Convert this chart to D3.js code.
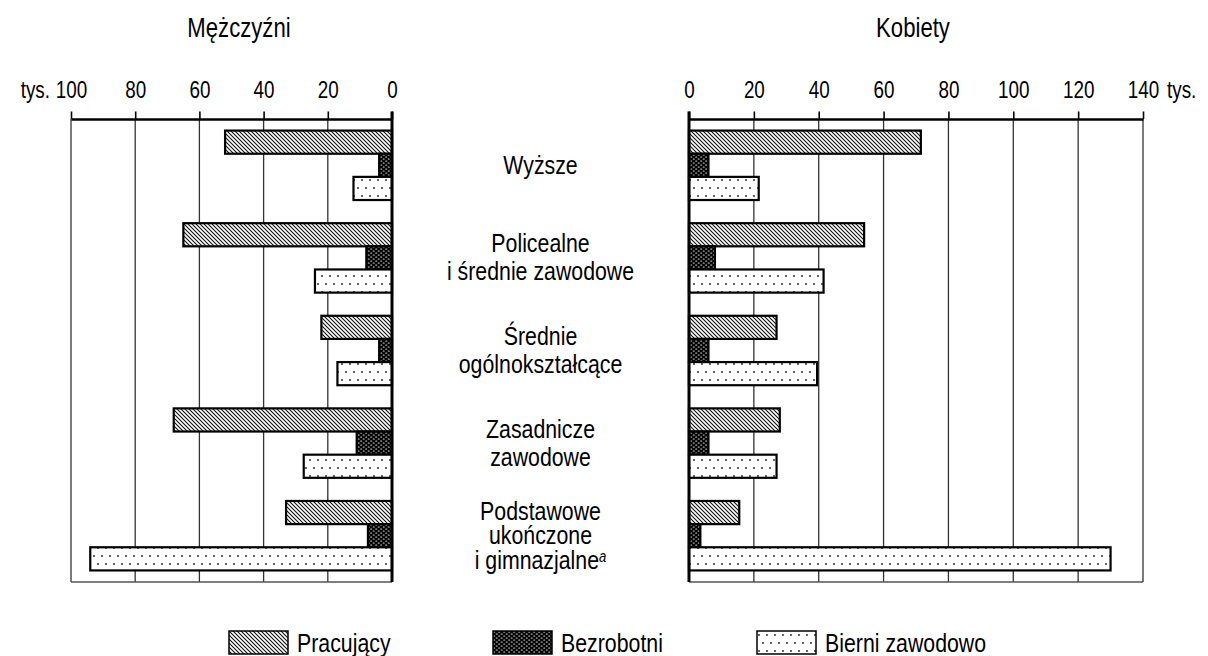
<!DOCTYPE html>
<html>
<head>
<meta charset="utf-8">
<script src="https://cdn.jsdelivr.net/npm/d3@7"></script>
<style>
  body { margin: 0; background: #fff; }
  text { font-family: "Liberation Sans", Arial, sans-serif; fill: #000; }
</style>
</head>
<body>
<svg id="chart"></svg>
<script>
// education levels, one entry per line of the label
const categories = [
  ["Wyższe"],
  ["Policealne", "i średnie zawodowe"],
  ["Średnie", "ogólnokształcące"],
  ["Zasadnicze", "zawodowe"],
  ["Podstawowe", "ukończone", "i gimnazjalne"],
];
const footnotes = ["", "", "", "", "a"];
const series = ["Pracujący", "Bezrobotni", "Bierni zawodowo"];

// thousands of persons
const menWorking = [52, 65, 22, 68, 33];
const menUnemployed = [4, 8, 4, 11, 7.5];
const menInactive = [12, 24, 17, 27.5, 94];
const womenWorking = [71.5, 54, 27, 28, 15.5];
const womenUnemployed = [6, 8, 6, 6, 3.5];
const womenInactive = [21.5, 41.5, 39.5, 27, 130];

const menTicks = [0, 20, 40, 60, 80, 100];
const womenTicks = [0, 20, 40, 60, 80, 100, 120, 140];
const unitLabel = "tys.";
const titles = ["Mężczyźni", "Kobiety"];

const w = 1208;
const h = 656;
const plotTop = 119;
const plotBottom = 582;
const narrow = 0.82; // the original uses a condensed face
const fills = ["url(#hatch)", "url(#dense)", "url(#dots)"];

const svg = d3.select("#chart").attr("width", w).attr("height", h);
const defs = svg.append("defs");

// diagonal hatch
const hatch = defs.append("pattern").attr("id", "hatch")
  .attr("patternUnits", "userSpaceOnUse").attr("width", 4).attr("height", 4);
hatch.append("rect").attr("width", 4).attr("height", 4).attr("fill", "#fff");
hatch.append("path").attr("d", "M-1,-1L5,5M-1,3L1,5M3,-1L5,1")
  .attr("stroke", "#111").attr("stroke-width", 1.1);

// black with small white specks
const dense = defs.append("pattern").attr("id", "dense")
  .attr("patternUnits", "userSpaceOnUse").attr("width", 5).attr("height", 4);
dense.append("rect").attr("width", 5).attr("height", 4).attr("fill", "#000");
dense.append("ellipse").attr("cx", 1.2).attr("cy", 1).attr("rx", 1.1).attr("ry", 0.55).attr("fill", "#eee");
dense.append("ellipse").attr("cx", 3.7).attr("cy", 3).attr("rx", 1.1).attr("ry", 0.55).attr("fill", "#eee");

// sparse dots
const dots = defs.append("pattern").attr("id", "dots")
  .attr("patternUnits", "userSpaceOnUse").attr("width", 8).attr("height", 16);
dots.append("rect").attr("width", 8).attr("height", 16).attr("fill", "#fff");
dots.append("circle").attr("cx", 2).attr("cy", 4).attr("r", 1).attr("fill", "#333");
dots.append("circle").attr("cx", 6).attr("cy", 12).attr("r", 1).attr("fill", "#333");

function addText(parent, x, y, size, str, anchor) {
  return parent.append("text")
    .attr("transform", `translate(${x},${y}) scale(${narrow},1)`)
    .attr("text-anchor", anchor || "start")
    .attr("font-size", size)
    .text(str);
}

const y = d3.scaleBand()
  .domain(d3.range(categories.length))
  .range([plotTop, plotBottom])
  .paddingInner(0.25)
  .paddingOuter(0.125);
const ySub = d3.scaleBand().domain(series).range([0, y.bandwidth()]);

const xMen = d3.scaleLinear().domain([0, 100]).range([392, 71]);
const xWomen = d3.scaleLinear().domain([0, 140]).range([689, 1143]);

function drawPanel(x, ticks, values) {
  const g = svg.append("g");
  const maxTick = ticks[ticks.length - 1];

  g.selectAll(".grid")
    .data(ticks.filter((t) => t !== 0))
    .enter()
    .append("line")
    .attr("x1", (d) => x(d))
    .attr("x2", (d) => x(d))
    .attr("y1", plotTop)
    .attr("y2", plotBottom)
    .attr("stroke", "#333")
    .attr("stroke-width", 1.3);

  g.append("line")
    .attr("x1", x(0))
    .attr("x2", x(maxTick))
    .attr("y1", plotBottom)
    .attr("y2", plotBottom)
    .attr("stroke", "#555")
    .attr("stroke-width", 1.5);

  const rows = [];
  values.forEach((arr, s) => {
    arr.forEach((v, i) => rows.push({ s: series[s], fill: fills[s], i: i, v: v }));
  });

  g.selectAll(".bar")
    .data(rows)
    .enter()
    .append("rect")
    .attr("class", "bar")
    .attr("x", (d) => Math.min(x(0), x(d.v)))
    .attr("width", (d) => Math.abs(x(d.v) - x(0)))
    .attr("y", (d) => y(d.i) + ySub(d.s))
    .attr("height", ySub.bandwidth())
    .attr("fill", (d) => d.fill)
    .attr("stroke", "#000")
    .attr("stroke-width", 2.2);

  const axis = g.append("g")
    .attr("transform", `translate(0, ${plotTop})`)
    .call(d3.axisTop(x).tickValues(ticks).tickSize(7.5).tickPadding(13.5).tickSizeOuter(0));
  axis.attr("font-family", null).attr("font-size", null);
  axis.select(".domain").attr("stroke", "#000").attr("stroke-width", 2.7);
  axis.selectAll(".tick line").attr("stroke", "#000").attr("stroke-width", 1.6);
  axis.selectAll(".tick text")
    .attr("font-size", 23)
    .attr("fill", "#000")
    .attr("transform", `scale(${narrow},1)`);

  g.append("line")
    .attr("x1", x(0))
    .attr("x2", x(0))
    .attr("y1", plotTop - 7.5)
    .attr("y2", plotBottom)
    .attr("stroke", "#000")
    .attr("stroke-width", 3);
}

drawPanel(xMen, menTicks, [menWorking, menUnemployed, menInactive]);
drawPanel(xWomen, womenTicks, [womenWorking, womenUnemployed, womenInactive]);

// unit labels
addText(svg, 50, plotTop - 21, 23, unitLabel, "end");
addText(svg, 1167, plotTop - 21, 23, unitLabel, "start");

// panel titles
addText(svg, 239, 37, 27, titles[0], "middle");
addText(svg, 913, 37, 27, titles[1], "middle");

// category labels between the panels
const labelX = (xMen(0) + xWomen(0)) / 2;
categories.forEach((lines, i) => {
  const lh = lines.length > 2 ? 24.5 : 28;
  const cy = y(i) + y.bandwidth() / 2;
  const first = cy + 8.5 - ((lines.length - 1) * lh) / 2;
  const t = svg.append("text")
    .attr("transform", `translate(${labelX},0) scale(${narrow},1)`)
    .attr("text-anchor", "middle")
    .attr("font-size", 26);
  lines.forEach((line, j) => {
    const span = t.append("tspan").attr("x", 0).attr("y", first + j * lh).text(line);
    if (j === lines.length - 1 && footnotes[i]) {
      span.append("tspan")
        .attr("font-size", 16)
        .attr("font-style", "italic")
        .attr("dy", -7)
        .text(footnotes[i]);
    }
  });
});

// legend
const legendItems = svg.selectAll(".legend-item")
  .data(series)
  .enter()
  .append("g")
  .attr("class", "legend-item")
  .attr("transform", (d, i) => `translate(${229 + i * 264}, 631)`);

legendItems.append("rect")
  .attr("width", 59)
  .attr("height", 23)
  .attr("fill", (d, i) => fills[i])
  .attr("stroke", "#000")
  .attr("stroke-width", 1.5);

legendItems.each(function (d) {
  addText(d3.select(this), 68, 21, 26, d, "start");
});
</script>
</body>
</html>
